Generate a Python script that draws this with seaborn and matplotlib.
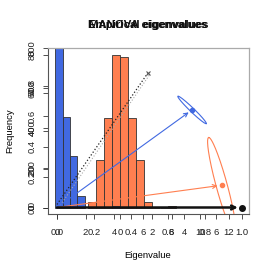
import matplotlib
matplotlib.use('Agg')
import numpy as np
import matplotlib.pyplot as plt
import seaborn as sns

plt.rcParams['font.family'] = ['Liberation Sans', 'DejaVu Sans']

# histogram data
blue_edges = [-0.01, 0.03, 0.07, 0.11, 0.15]
blue_counts = [1000, 449, 256, 57]
orange_edges = [-2.0, -1.5, -1.0, -0.5, 0.0, 0.5, 1.0, 1.5, 2.0, 2.5, 3.0, 3.5]
orange_counts = [3, 25, 47, 80, 79, 47, 25, 3, 0, 0, 1]
blue_small_edges = [-0.5, 0.0]
blue_small_counts = [1]

# eigenvector end points (0..1 scale)
vec_black = (1.0, 0.0)
vec_blue = (0.73, 0.64)
vec_orange = (0.89, 0.146)
vec_null = (0.49, 0.88)

# ellipse half axes (0..1 scale)
blue_major = (0.0766, -0.0897)
blue_minor = (0.0075, 0.0094)
orange_major = (-0.0703, 0.3128)
orange_minor = (0.0290, 0.0096)

titles = ['Empirical eigenvalues', 'MANOVA eigenvalues']

fig = plt.figure(figsize=(2.74, 2.74), dpi=100)
rect = [48 / 274, 60 / 274, 201 / 274, 166 / 274]

# pixel helpers: x0 px of zero, px per unit ; y zero at 207.5 px
def xl(x0, s):
    return ((48 - x0) / s, (249 - x0) / s)

def yl(s, y0=207.5):
    return ((y0 - 214) / s, (y0 - 48) / s)

lim_A = (xl(57, 185), yl(152.5))
lim_B = (xl(57, 14.33), yl(0.2015))
lim_C = (xl(120, 16), yl(1.91))

tick_kw = dict(direction='out', length=3.6, width=0.6, color='#333333',
               labelsize=6.8, labelcolor='#222222')


def make_ax(lims, xt, yt, xfmt, yfmt, show=True):
    ax = fig.add_axes(rect)
    ax.patch.set_visible(False)
    for s in ax.spines.values():
        s.set_visible(False)
    ax.set_xlim(*lims[0])
    ax.set_ylim(*lims[1])
    if show:
        ax.set_xticks(xt)
        ax.set_xticklabels([xfmt % v for v in xt])
        ax.set_yticks(yt)
        ax.set_yticklabels([yfmt % v for v in yt], rotation=90, va='center')
        ax.tick_params(axis='x', pad=6.5, **tick_kw)
        ax.tick_params(axis='y', pad=4.5, **tick_kw)
    else:
        ax.set_xticks([])
        ax.set_yticks([])
    return ax


ax_b = make_ax((lim_A[0], lim_B[1]), [], [], '', '', show=False)
sns.histplot(x=[(a + b) / 2 for a, b in zip(blue_edges[:-1], blue_edges[1:])],
             weights=blue_counts, bins=blue_edges, ax=ax_b, color='#4169E1',
             alpha=1, edgecolor='#333333', linewidth=0.6)
ax_b.set_xlim(*lim_A[0]); ax_b.set_ylim(*lim_B[1])
ax_b.set_xlabel(''); ax_b.set_ylabel('')

axB = make_ax(lim_B, [0, 2, 4, 6, 8, 10, 12], [0, 200, 400, 600, 800], '%d', '%d')

axC = make_ax(lim_C, [0, 2, 4, 6], [0, 20, 40, 60, 80], '%d', '%d')
sns.histplot(x=[(a + b) / 2 for a, b in zip(orange_edges[:-1], orange_edges[1:])],
             weights=orange_counts, bins=orange_edges, ax=axC, color='#FF7F50',
             alpha=1, edgecolor='#333333', linewidth=0.6)
sns.histplot(x=[-0.25], weights=blue_small_counts, bins=blue_small_edges, ax=axC,
             color='#4169E1', alpha=1, edgecolor='#333333', linewidth=0.4)
axC.set_xlim(*lim_C[0]); axC.set_ylim(*lim_C[1])
axC.set_xlabel(''); axC.set_ylabel('')

axA = make_ax(lim_A, [0, 0.2, 0.4, 0.6, 0.8, 1.0], [0, 0.2, 0.4, 0.6, 0.8], '%.1f', '%.1f')
for k in ['top', 'right']:
    axA.spines[k].set_visible(True)
    axA.spines[k].set_color('#aaaaaa')
    axA.spines[k].set_linewidth(0.9)
for k in ['left', 'bottom']:
    axA.spines[k].set_visible(True)
    axA.spines[k].set_color('#555555')
    axA.spines[k].set_linewidth(0.8)

# null line
axA.plot([0, vec_null[0]], [0.02, vec_null[1]], ls=':', color='#222222', lw=0.9)
axA.plot([0.01, vec_null[0] + 0.01], [0.0, vec_null[1] - 0.01], ls=':', color='#aaaaaa', lw=0.8)
axA.plot([vec_null[0]], [vec_null[1]], marker='x', color='#555555', ms=3.5, mew=0.8)

t = np.linspace(0, 2 * np.pi, 200)
for c, mj, mn, col in [(vec_blue, blue_major, blue_minor, '#4169E1'),
                       (vec_orange, orange_major, orange_minor, '#FF7F50')]:
    ex = c[0] + np.cos(t) * mj[0] + np.sin(t) * mn[0]
    ey = c[1] + np.cos(t) * mj[1] + np.sin(t) * mn[1]
    axA.plot(ex, ey, color=col, lw=0.8)

for v, col, lw, ms in [(vec_blue, '#4169E1', 0.8, 3),
                       (vec_orange, '#FF7F50', 0.8, 3),
                       (vec_black, '#111111', 1.8, 4)]:
    axA.annotate('', xy=v, xytext=(0, 0),
                 arrowprops=dict(arrowstyle='->', color=col, lw=lw,
                                 shrinkA=0, shrinkB=3, mutation_scale=7))
    axA.plot([v[0]], [v[1]], marker='o', color=col, ms=ms, clip_on=False)

for tt in titles:
    fig.text(148 / 274, 1 - 25 / 274, tt, ha='center', va='center',
             fontsize=8.2, fontweight='bold', color='#111111')
fig.text(148 / 274, 1 - 255 / 274, 'Eigenvalue', ha='center', va='center', fontsize=6.8)
fig.text(10 / 274, 1 - 131 / 274, 'Frequency', ha='center', va='center',
         fontsize=6.8, rotation=90)

fig.savefig('out.png', dpi=100, facecolor='white')
